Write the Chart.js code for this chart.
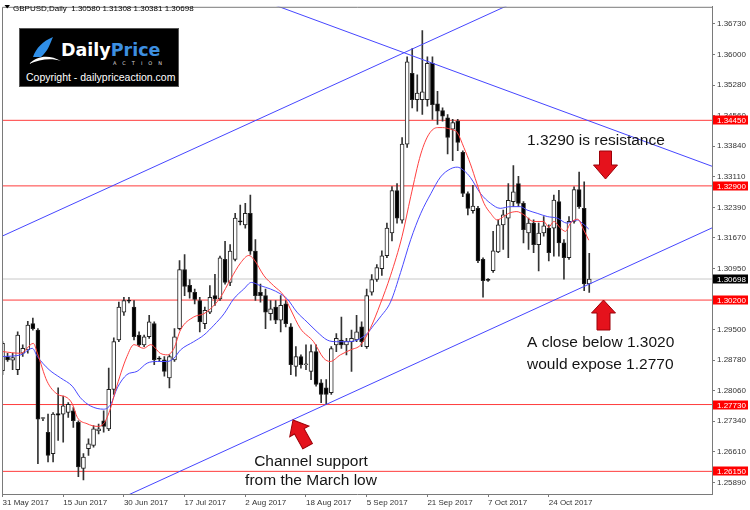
<!DOCTYPE html>
<html>
<head>
<meta charset="utf-8">
<title>GBPUSD Daily</title>
<script src="https://cdn.jsdelivr.net/npm/chart.js"></script>
<style>
  html, body { margin: 0; padding: 0; background: #fff; }
  #wrap { position: relative; width: 750px; height: 510px; }
  #logo { position: absolute; left: 19px; top: 28px; width: 158px; height: 57px; background: #000; border: 1px solid #555; overflow: hidden; }
  #logo svg { position: absolute; left: 8px; top: 7px; }
  #logo .brand { position: absolute; left: 41px; top: 13px; font: bold 17.5px "DejaVu Sans", sans-serif; line-height: 1; white-space: nowrap; }
  #logo .brand .d { color: #fff; }
  #logo .brand .p { color: #3d8fe0; }
  #logo .action { position: absolute; left: 93px; top: 31px; font: 5px "DejaVu Sans", sans-serif; letter-spacing: 6px; color: #ddd; white-space: nowrap; }
  #logo .copy { position: absolute; left: 6px; top: 42px; font: 10.5px "Liberation Sans", sans-serif; color: #fff; white-space: nowrap; }
</style>
</head>
<body>
<div id="wrap">
  <canvas id="chart" width="750" height="510"></canvas>
  <div id="logo">
    <svg width="34" height="30" viewBox="0 0 34 30">
      <path d="M5 21 C 8 12, 15 5, 25 1 C 22 8, 20 15, 13 21 Z" fill="#2f8fe8"/>
      <path d="M1 28 C 10 19, 22 19, 33 25 C 24 22, 12 23, 1 28 Z" fill="#fff"/>
    </svg>
    <div class="brand"><span class="d">Daily</span><span class="p">Price</span></div>
    <div class="action">ACTION</div>
    <div class="copy">Copyright - dailypriceaction.com</div>
  </div>
</div>
<script>
// ---- candle data (one entry per daily bar, 31 May 2017 .. 3 Nov 2017) ----
const opens = [
  1.28531, 1.28865, 1.28779, 1.28555, 1.28942, 1.29022, 1.29643, 1.29489, 1.27401, 1.27074,
  1.26569, 1.27517, 1.27503, 1.27541, 1.27580, 1.27307, 1.26219, 1.26686, 1.26763, 1.27113,
  1.27347, 1.27153, 1.28087, 1.29255, 1.29916, 1.30190, 1.30033, 1.29372, 1.29139, 1.29332,
  1.29643, 1.28812, 1.28788, 1.28358, 1.28788, 1.29526, 1.30921, 1.30547, 1.30384, 1.30190,
  1.29643, 1.29916, 1.30307, 1.30227, 1.31162, 1.30617, 1.31162, 1.32066, 1.31979, 1.32252,
  1.31358, 1.30384, 1.30307, 1.29877, 1.30033, 1.29723, 1.30110, 1.29566, 1.28632, 1.28865,
  1.28671, 1.28515, 1.28982, 1.28241, 1.28125, 1.28008, 1.29139, 1.29255, 1.29139, 1.29216,
  1.29255, 1.29566, 1.29099, 1.30384, 1.30687, 1.30944, 1.31248, 1.31785, 1.32790, 1.32089,
  1.33888, 1.35563, 1.34939, 1.34939, 1.34939, 1.35796, 1.34838, 1.34682, 1.34511, 1.34238,
  1.34432, 1.33694, 1.32720, 1.32316, 1.32369, 1.31162, 1.30676, 1.30898, 1.31341, 1.31979,
  1.32136, 1.32526, 1.32953, 1.32486, 1.31785, 1.32019, 1.31512, 1.31785, 1.31902, 1.31902,
  1.32526, 1.31552, 1.31201, 1.32059, 1.32813, 1.32369, 1.30580
];
const highs = [
  1.29216, 1.28942, 1.28942, 1.29449, 1.29139, 1.29699, 1.29776, 1.29526, 1.27424, 1.27503,
  1.27541, 1.28125, 1.27931, 1.27774, 1.27658, 1.27347, 1.26569, 1.26919, 1.27230, 1.27270,
  1.27580, 1.28592, 1.29309, 1.30150, 1.30267, 1.30267, 1.30190, 1.29449, 1.29372, 1.29839,
  1.29683, 1.28865, 1.28865, 1.28905, 1.29526, 1.31131, 1.31278, 1.30687, 1.30461, 1.30267,
  1.30033, 1.30540, 1.30811, 1.31241, 1.31591, 1.31512, 1.32252, 1.32446, 1.32486, 1.32680,
  1.31629, 1.30578, 1.30461, 1.30190, 1.30190, 1.30307, 1.30190, 1.29643, 1.29099, 1.28905,
  1.29139, 1.29139, 1.29139, 1.28321, 1.28321, 1.29099, 1.29409, 1.29800, 1.29293, 1.29489,
  1.29839, 1.29683, 1.30461, 1.30804, 1.31038, 1.31365, 1.32019, 1.32883, 1.32953, 1.34044,
  1.35950, 1.36147, 1.35523, 1.36574, 1.35950, 1.35950, 1.35133, 1.34745, 1.34588, 1.34472,
  1.34472, 1.33731, 1.32759, 1.32914, 1.32416, 1.31201, 1.30711, 1.31825, 1.32096, 1.32330,
  1.32953, 1.33381, 1.33124, 1.32526, 1.32136, 1.32096, 1.32019, 1.32175, 1.31979, 1.32680,
  1.32797, 1.31629, 1.32175, 1.32876, 1.33227, 1.32993, 1.31308
];
const lows = [
  1.28438, 1.28748, 1.28555, 1.28438, 1.28865, 1.28942, 1.29489, 1.26335, 1.27347, 1.26373,
  1.26373, 1.26880, 1.26840, 1.27424, 1.27190, 1.26022, 1.25945, 1.26529, 1.26723, 1.27036,
  1.27074, 1.27113, 1.27971, 1.29216, 1.29839, 1.30134, 1.29255, 1.29099, 1.29099, 1.29293,
  1.28671, 1.28748, 1.28398, 1.28125, 1.28748, 1.29496, 1.30307, 1.30243, 1.30110, 1.29449,
  1.29526, 1.29877, 1.30073, 1.30190, 1.30578, 1.30540, 1.31124, 1.31979, 1.31902, 1.31278,
  1.30190, 1.30150, 1.29526, 1.29723, 1.29643, 1.29449, 1.29566, 1.28438, 1.28398, 1.28592,
  1.28555, 1.28321, 1.28164, 1.27774, 1.27737, 1.27971, 1.28982, 1.29059, 1.28905, 1.28515,
  1.29216, 1.29099, 1.29059, 1.30314, 1.30641, 1.30781, 1.31202, 1.31598, 1.32019, 1.32019,
  1.33811, 1.34745, 1.34666, 1.34588, 1.34782, 1.34472, 1.34355, 1.34432, 1.33654, 1.33498,
  1.33731, 1.32643, 1.32213, 1.32252, 1.31084, 1.30267, 1.30641, 1.30851, 1.31318, 1.31395,
  1.31201, 1.32409, 1.32409, 1.31552, 1.31395, 1.31318, 1.30891, 1.31708, 1.31124, 1.31241,
  1.31241, 1.30694, 1.31162, 1.32019, 1.32369, 1.30423, 1.30381
];
const closes = [
  1.29176, 1.28788, 1.28842, 1.29372, 1.29059, 1.29606, 1.29526, 1.27387, 1.27410, 1.26529,
  1.27503, 1.27480, 1.27697, 1.27737, 1.27347, 1.26256, 1.26490, 1.26803, 1.27153, 1.27153,
  1.27214, 1.28087, 1.29216, 1.30033, 1.30190, 1.30173, 1.29332, 1.29139, 1.29332, 1.29683,
  1.28788, 1.28802, 1.28515, 1.28865, 1.29332, 1.30921, 1.30524, 1.30384, 1.30213, 1.29683,
  1.29956, 1.30267, 1.30227, 1.31201, 1.30617, 1.31358, 1.32136, 1.32049, 1.32252, 1.31358,
  1.30307, 1.30307, 1.29916, 1.29994, 1.29723, 1.30073, 1.29643, 1.28671, 1.28865, 1.28671,
  1.28678, 1.28982, 1.28204, 1.27971, 1.27971, 1.29052, 1.29293, 1.29139, 1.29232, 1.29293,
  1.29449, 1.29216, 1.30307, 1.30687, 1.30968, 1.31248, 1.31902, 1.32790, 1.32136, 1.33888,
  1.35834, 1.34939, 1.35095, 1.35125, 1.35796, 1.34822, 1.34666, 1.34549, 1.34044, 1.34395,
  1.33927, 1.32720, 1.32369, 1.32423, 1.31131, 1.30657, 1.30666, 1.31365, 1.31979, 1.32213,
  1.32556, 1.32759, 1.32486, 1.31862, 1.32019, 1.31512, 1.31785, 1.31956, 1.31318, 1.32563,
  1.31552, 1.31201, 1.32059, 1.32813, 1.32409, 1.30580, 1.30698
];

// ---- moving averages (bar position, price) ----
const redMaBars = [0, 3.6, 6.1, 6.9, 8.8, 10.8, 12.8, 13.8, 14.8, 16.7, 18.7, 20, 21.4, 22.3, 24.6, 26, 27.9, 29.3,
  31.2, 32.6, 33.9, 35.2, 37.8, 39.8, 41.8, 43.1, 45.1, 47.1, 48.7, 49.7, 51.7, 53.6, 55.6, 56.9, 58.9, 61.5,
  63.5, 64.8, 66.8, 68.8, 70.8, 72.7, 74.7, 76.7, 79, 80.7, 82.7, 84.3, 86, 87, 88.6, 89.9, 91.2, 92.5, 93.8,
  95.2, 96.5, 97.8, 99.1, 100.1, 101.7, 103.1, 105, 107, 108, 109, 110.3, 111.3, 112.3, 113.7, 114.9, 115.9];
const redMa = [1.28982, 1.28942, 1.29176, 1.28942, 1.28281, 1.27978, 1.27891, 1.27744, 1.27424, 1.27277, 1.27214,
  1.27277, 1.27658, 1.28048, 1.28865, 1.29146, 1.29059, 1.29146, 1.28942, 1.28905, 1.29059, 1.29496, 1.29800,
  1.29877, 1.30073, 1.30267, 1.30694, 1.31084, 1.31255, 1.31162, 1.30774, 1.30540, 1.30307, 1.29994, 1.29526,
  1.29216, 1.28826, 1.28748, 1.28905, 1.29022, 1.29139, 1.29526, 1.30110, 1.30774, 1.31708, 1.32643, 1.33654,
  1.34121, 1.34278, 1.34278, 1.34238, 1.34161, 1.33811, 1.33420, 1.32953, 1.32486, 1.32252, 1.32096, 1.32175,
  1.32252, 1.32292, 1.32213, 1.32059, 1.32059, 1.31925, 1.32059, 1.31902, 1.31825, 1.32019, 1.32112, 1.31862,
  1.31615];
const blueMaBars = [0, 3.6, 5.9, 6.9, 9.2, 11.5, 13.8, 15.4, 17.4, 20, 21.4, 22.7, 24.6, 26.6, 28.6, 30.6, 32.6,
  33.9, 35.2, 37.8, 39.8, 41.8, 43.8, 45.7, 47.7, 49.2, 51, 53, 55, 56.3, 58.2, 60.2, 62.2, 64.2, 66.1, 68.1,
  70.1, 72.1, 73.4, 74.7, 76.7, 78.7, 80.7, 82.7, 84.7, 86.6, 88.6, 89.9, 91.2, 92.5, 94.5, 96.5, 98.4, 100.4,
  102.4, 103.7, 105.7, 107.7, 109.7, 111.6, 113.6, 114.6, 115.9];
const blueMa = [1.28865, 1.28905, 1.29059, 1.28865, 1.28555, 1.28358, 1.28164, 1.27891, 1.27697, 1.27620, 1.27737,
  1.28125, 1.28438, 1.28515, 1.28709, 1.28748, 1.28748, 1.28826, 1.29022, 1.29216, 1.29372, 1.29606, 1.29877,
  1.30227, 1.30461, 1.30617, 1.30540, 1.30461, 1.30344, 1.30227, 1.29916, 1.29683, 1.29449, 1.29255, 1.29216,
  1.29216, 1.29255, 1.29409, 1.29606, 1.29800, 1.30150, 1.30851, 1.31629, 1.32252, 1.32720, 1.33110, 1.33304,
  1.33343, 1.33264, 1.33100, 1.32720, 1.32486, 1.32369, 1.32409, 1.32409, 1.32330, 1.32252, 1.32175, 1.32136,
  1.32019, 1.32096, 1.32019, 1.31879];

// ---- drawn objects ----
const levels = [1.34450, 1.32900, 1.30200, 1.27730, 1.26150];
const lastPrice = 1.30698;
const upperChannelBars = [0, 110];
const upperChannel = [1.31715, 1.37719];
const lowerChannelBars = [20, 141];
const lowerChannel = [1.25326, 1.31946];
const resistLineBars = [50, 141];
const resistLine = [1.37343, 1.33332];

// ---- axes ----
const dateTicks = [0, 12, 24, 36, 48, 60, 72, 84, 96, 108];
const dateLabels = ['31 May 2017', '15 Jun 2017', '30 Jun 2017', '17 Jul 2017', '2 Aug 2017',
  '18 Aug 2017', '5 Sep 2017', '21 Sep 2017', '7 Oct 2017', '24 Oct 2017'];
const priceTicks = [1.36730, 1.36000, 1.35280, 1.34560, 1.33840, 1.33110, 1.32390, 1.31670, 1.30950,
  1.29500, 1.28780, 1.28060, 1.27340, 1.26610, 1.25890];

const FONT = '"Liberation Sans", Arial, sans-serif';
const n = opens.length;
const last = n - 1;

const wickData = opens.map((o, i) => ({ x: i, y: [lows[i], highs[i]] }));
const bodyData = opens.map((o, i) => ({ x: i, y: [o, closes[i]] }));
const bodyColors = opens.map((o, i) => closes[i] >= o ? '#ffffff' : '#000000');

const pts = (xs, ys) => xs.map((x, i) => ({ x: x, y: ys[i] }));
const flat = (v) => [{ x: -2, y: v }, { x: 145, y: v }];

function lineSet(data, color, order, extra) {
  return Object.assign({
    type: 'line', data: data, borderColor: color, borderWidth: 1,
    pointRadius: 0, fill: false, tension: 0, order: order
  }, extra || {});
}

const datasets = [
  lineSet(pts(upperChannelBars, upperChannel), '#4646ff', 1),
  lineSet(pts(lowerChannelBars, lowerChannel), '#4646ff', 1),
  lineSet(pts(resistLineBars, resistLine), '#4646ff', 1),
  lineSet(pts(redMaBars, redMa), '#ff4040', 2, { cubicInterpolationMode: 'monotone' }),
  lineSet(pts(blueMaBars, blueMa), '#4a4aff', 2, { cubicInterpolationMode: 'monotone' }),
  {
    type: 'bar', data: bodyData, backgroundColor: bodyColors, borderColor: '#222',
    borderWidth: 1, borderSkipped: false, barThickness: 4, minBarLength: 1,
    grouped: false, order: 3
  },
  {
    type: 'bar', data: wickData, backgroundColor: '#333', borderWidth: 0,
    barThickness: 1, grouped: false, order: 4
  }
];
levels.forEach(v => datasets.push(lineSet(flat(v), '#ff3c3c', 5)));
datasets.push(lineSet(flat(lastPrice), '#c8c8c8', 6));

// arrows + notes around the chart
function arrow(ctx, tx, ty, ang, len, headLen, headHalf, shaftHalf) {
  ctx.save();
  ctx.translate(tx, ty);
  ctx.rotate(ang);
  ctx.beginPath();
  ctx.moveTo(0, 0);
  ctx.lineTo(-headLen, -headHalf);
  ctx.lineTo(-headLen, -shaftHalf);
  ctx.lineTo(-len, -shaftHalf);
  ctx.lineTo(-len, shaftHalf);
  ctx.lineTo(-headLen, shaftHalf);
  ctx.lineTo(-headLen, headHalf);
  ctx.closePath();
  ctx.fillStyle = '#e5121c';
  ctx.fill();
  ctx.strokeStyle = '#9c0008';
  ctx.lineWidth = 1;
  ctx.stroke();
  ctx.restore();
}

const decor = {
  id: 'decor',
  afterDraw(chart) {
    const { ctx, chartArea: a, scales: { y } } = chart;
    ctx.save();

    // frame (left and top edges)
    ctx.strokeStyle = '#7a7a7a';
    ctx.lineWidth = 1;
    ctx.beginPath();
    ctx.moveTo(a.left + 0.5, a.bottom);
    ctx.lineTo(a.left + 0.5, a.top + 0.5);
    ctx.lineTo(a.right, a.top + 0.5);
    ctx.stroke();

    // header
    ctx.fillStyle = '#000';
    ctx.beginPath();
    ctx.moveTo(4.5, 5); ctx.lineTo(10, 5); ctx.lineTo(7.25, 8.5);
    ctx.closePath(); ctx.fill();
    ctx.font = '8px ' + FONT;
    ctx.textBaseline = 'alphabetic';
    ctx.textAlign = 'left';
    ctx.fillText('GBPUSD,Daily  ' + [opens[last], highs[last], lows[last], closes[last]]
      .map(v => v.toFixed(5)).join(' '), 13, 10.5);

    // price boxes on the axis
    const box = (v, bg) => {
      const py = Math.round(y.getPixelForValue(v));
      ctx.fillStyle = bg;
      ctx.fillRect(a.right + 1, py - 4.5, 35, 9);
      ctx.fillStyle = '#fff';
      ctx.textBaseline = 'middle';
      ctx.fillText(v.toFixed(5), a.right + 5, py + 0.5);
    };
    levels.forEach(v => box(v, '#ff0000'));
    box(lastPrice, '#000000');

    // notes
    ctx.fillStyle = '#141414';
    ctx.font = '15.5px ' + FONT;
    ctx.textBaseline = 'alphabetic';
    ctx.fillText('1.3290 is resistance', 527, 145);
    ctx.fillText('A close below 1.3020', 527, 347);
    ctx.fillText('would expose 1.2770', 527, 369);
    ctx.textAlign = 'center';
    ctx.fillText('Channel support', 311, 466);
    ctx.fillText('from the March low', 311, 484.5);

    arrow(ctx, 605.5, 179, Math.PI / 2, 28, 14, 12, 6);
    arrow(ctx, 603.5, 300, -Math.PI / 2, 30, 13, 12, 6.5);
    arrow(ctx, 293, 420, Math.atan2(-26, -14.5), 30, 13, 11, 5.5);

    ctx.restore();
  }
};

new Chart(document.getElementById('chart'), {
  type: 'bar',
  data: { datasets: datasets },
  options: {
    responsive: false,
    animation: false,
    events: [],
    layout: { padding: { left: 2, top: 1, right: 0, bottom: 0 } },
    plugins: { legend: { display: false }, tooltip: { enabled: false } },
    scales: {
      x: {
        type: 'linear', min: -0.1, max: 140.27, offset: false,
        afterFit: s => { s.height = 16; },
        afterBuildTicks: s => { s.ticks = dateTicks.map(v => ({ value: v })); },
        border: { display: true, color: '#7a7a7a' },
        grid: { display: true, drawOnChartArea: false, tickLength: 3, color: '#7a7a7a', offset: false },
        ticks: {
          autoSkip: false, maxRotation: 0, align: 'start', padding: 1, color: '#333',
          font: { family: FONT, size: 8 },
          callback: v => { const k = dateTicks.indexOf(v); return k >= 0 ? dateLabels[k] : ''; }
        }
      },
      y: {
        type: 'linear', position: 'right', min: 1.25615, max: 1.37134,
        afterFit: s => { s.width = 38; },
        afterBuildTicks: s => { s.ticks = priceTicks.map(v => ({ value: v })); },
        border: { display: true, color: '#7a7a7a' },
        grid: { display: true, drawOnChartArea: false, tickLength: 3, color: '#7a7a7a' },
        ticks: {
          padding: 2, color: '#333', font: { family: FONT, size: 8 },
          callback: v => Number(v).toFixed(5)
        }
      }
    }
  },
  plugins: [decor]
});
</script>
</body>
</html>
